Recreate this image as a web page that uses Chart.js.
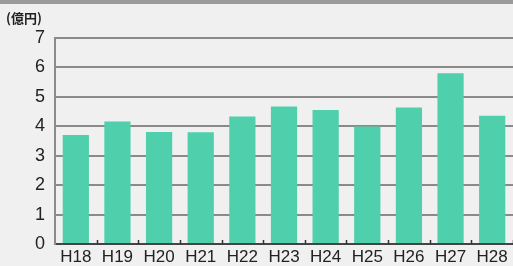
<!DOCTYPE html>
<html>
<head>
<meta charset="utf-8">
<script src="https://cdn.jsdelivr.net/npm/chart.js@4"></script>
<style>
  html, body { margin: 0; padding: 0; background: #f0f0f0; }
  body { width: 513px; height: 266px; overflow: hidden; position: relative; }
  .band { position: absolute; left: 0; top: 0; width: 513px; height: 4px; background: #9a9a9a; }
  #wrap { position: absolute; left: 0; top: 0; width: 513px; height: 266px; }
</style>
</head>
<body>
<div class="band"></div>
<div id="wrap"><canvas id="chart" width="513" height="266"></canvas></div>
<script>
// 年度ごとの金額（億円）
const years = ['H18', 'H19', 'H20', 'H21', 'H22', 'H23', 'H24', 'H25', 'H26', 'H27', 'H28'];
const amounts = [3.70, 4.16, 3.81, 3.80, 4.33, 4.67, 4.55, 3.99, 4.64, 5.80, 4.36];
const yTicks = [0, 1, 2, 3, 4, 5, 6, 7];
const unitLabel = '(億円)';

// 単位ラベルとx軸の小さい目盛り
const extras = {
  id: 'extras',
  afterDraw(chart) {
    const { ctx, scales: { x, y } } = chart;
    ctx.save();
    ctx.fillStyle = '#222';
    ctx.font = 'bold 13px "Noto Sans CJK JP", sans-serif';
    ctx.textBaseline = 'middle';
    ctx.fillText(unitLabel, 6, 18);
    ctx.strokeStyle = '#333';
    ctx.lineWidth = 1.5;
    const half = (x.getPixelForValue(1) - x.getPixelForValue(0)) / 2;
    const base = y.getPixelForValue(0);
    years.forEach((_, i) => {
      const px = Math.round(x.getPixelForValue(i) + half) + 0.5;
      ctx.beginPath();
      ctx.moveTo(px, base);
      ctx.lineTo(px, base - 4);
      ctx.stroke();
    });
    ctx.restore();
  }
};

new Chart(document.getElementById('chart'), {
  type: 'bar',
  data: {
    labels: years,
    datasets: [{
      data: amounts,
      backgroundColor: '#4fcfab',
      categoryPercentage: 1,
      barPercentage: 0.63
    }]
  },
  options: {
    responsive: false,
    animation: false,
    layout: { padding: { top: 38, right: 0, left: 0, bottom: 0 } },
    plugins: { legend: { display: false }, tooltip: { enabled: false } },
    scales: {
      x: {
        grid: { display: false, drawTicks: false, tickLength: 0 },
        border: { color: '#444', width: 2 },
        ticks: { color: '#222', font: { family: 'Liberation Sans', size: 17 }, padding: 3, maxRotation: 0 },
        afterFit(s) { s.height = 22; }
      },
      y: {
        min: 0, max: 7,
        afterBuildTicks(s) { s.ticks = yTicks.map(v => ({ value: v })); },
        grid: { color: '#8a8a8a', lineWidth: 2, drawTicks: false },
        border: { color: '#8a8a8a', width: 2 },
        ticks: { color: '#222', font: { family: 'Liberation Sans', size: 18 }, padding: 10 },
        afterFit(s) { s.width = 55; }
      }
    }
  },
  plugins: [extras]
});
</script>
</body>
</html>
